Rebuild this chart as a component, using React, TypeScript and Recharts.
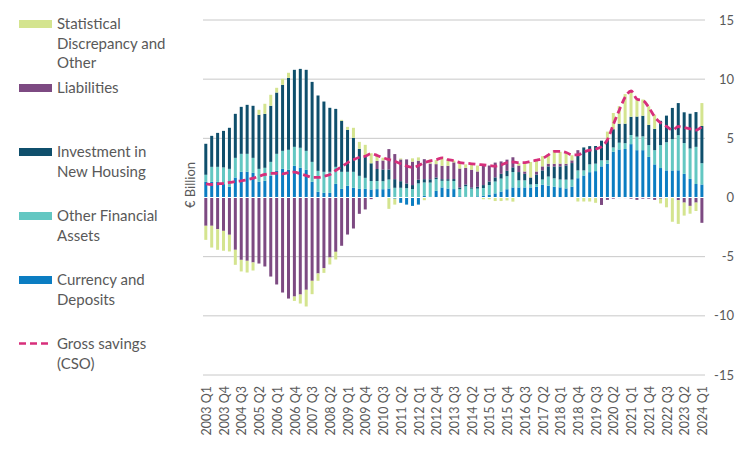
import {
  ComposedChart,
  Bar,
  Line,
  XAxis,
  YAxis,
  CartesianGrid,
  ReferenceLine,
} from 'recharts'

const years = [
  2003, 2004, 2005, 2006, 2007, 2008, 2009, 2010, 2011, 2012, 2013,
  2014, 2015, 2016, 2017, 2018, 2019, 2020, 2021, 2022, 2023, 2024,
]
const quarterNames = ['Q1', 'Q2', 'Q3', 'Q4']

// € billion, 2003 Q1 .. 2024 Q1
const currency = [
  1.32, 1.32, 1.32, 1.13, 0.9, 1.69, 2.17, 2.17, 2.08, 1.32, 1.41, 1.83,
  2.25, 2.42, 2.34, 2.68, 2.51, 2.34, 1.32, 0.48, 0.39, 0.39, 1.15, 0.73,
  0.99, 0.82, 0.73, 0.73, 0.68, 0.71, 0.7, 0.76, -0.1, -0.45, -0.6, -0.71,
  -0.6, 0.14, 0.05, 0.56, 0.85, 0.76, 0.71, 0.1, 0.05, 0.05, 0.1, 0.15,
  0.25, 0.35, 0.5, 0.7, 0.85, 0.85, 0.85, 0.85, 0.91, 1.09, 1.0, 0.91,
  0.86, 0.77, 0.91, 1.63, 1.86, 2.14, 2.23, 2.63, 2.86, 3.86, 4.06, 4.1,
  4.51, 4.0, 4.0, 3.43, 2.8, 2.49, 2.29, 2.29, 2.3, 2.0, 1.57, 1.14, 1.1,
]
const otherFinancial = [
  0.6, 1.27, 1.27, 1.41, 1.52, 1.66, 1.52, 1.52, 1.27, 1.1, 1.1, 1.18,
  1.44, 1.52, 1.69, 1.6, 1.69, 1.6, 1.69, 1.77, 1.78, 1.78, 1.44, 1.44,
  1.18, 1.35, 1.1, 0.93, 0.71, 0.68, 0.68, 0.76, 0.82, 0.82, 0.79, 0.71,
  1.19, 1.13, 1.21, 0.99, 0.56, 0.65, 0.68, 0.6, 0.9, 0.7, 0.65, 0.65,
  0.8, 1.0, 1.1, 1.1, 1.3, 0.6, 0.6, 0.25, 0.23, 0.43, 0.77, 0.71,
  0.66, 0.74, 0.6, 0.66, 0.43, 0.66, 0.63, 0.51, 0.29, 0.37, 0.57, 0.49,
  0.77, 1.14, 1.17, 1.0, 1.2, 1.94, 2.38, 2.64, 2.97, 2.6, 2.57, 3.14, 1.8,
]
const newHousing = [
  2.62, 2.62, 2.87, 3.09, 3.47, 3.72, 3.97, 4.14, 4.4, 4.57, 4.56, 4.74,
  5.18, 5.58, 6.08, 6.51, 6.67, 6.85, 6.76, 6.37, 5.94, 5.41, 4.9, 4.31,
  3.55, 2.87, 2.28, 1.86, 1.5, 1.02, 0.99, 0.85, 0.73, 0.56, 0.4, 0.34,
  0.31, 0.28, 0.28, 0.14, 0.14, 0.14, 0.17, 0.15, 0.15, 0.1, 0.15, 0.25,
  0.3, 0.35, 0.4, 0.45, 0.4, 0.7, 0.55, 0.55, 0.8, 0.77, 0.86, 1.0,
  1.11, 1.2, 1.4, 1.37, 1.94, 1.54, 1.49, 1.66, 1.71, 1.54, 1.6, 1.65,
  1.54, 1.7, 1.74, 1.71, 1.8, 2.05, 2.25, 2.64, 2.71, 2.6, 2.94, 2.94, 3.14,
]
const liabilities = [
  -2.39, -2.39, -2.68, -2.82, -3.15, -4.42, -5.27, -5.35, -5.49, -5.58, -5.83, -6.68,
  -7.35, -8.03, -8.54, -8.37, -8.2, -7.8, -7.04, -6.42, -5.97, -5.07, -4.59, -4.08,
  -3.13, -2.62, -1.38, -1.01, -0.14, 0.68, 0.76, 1.72, 2.12, 1.84, 2.03, 1.98,
  1.61, 1.69, 1.33, 1.13, 1.13, 1.13, 1.41, 1.6, 1.4, 1.5, 1.3, 1.75,
  1.35, 1.25, 1.05, 0.95, 0.85, 0.55, 0.2, 0.05, 0.26, 0.34, 0.23, 0.23,
  0.23, 0.14, 0.23, 0.34, 0, 0, -0.05, -0.63, -0.2, -0.1, -0.05, -0.05,
  -0.1, -0.2, -0.1, -0.1, -0.2, -0.1, -0.05, -0.05, -0.23, -0.43, -0.71, -0.43, -2.14,
]
const discrepancy = [
  -1.19, -1.84, -1.74, -1.68, -1.41, -1.27, -0.98, -0.99, -0.68, 0.42, 0.85, 0.93,
  0.4, 0.51, 0.43, -0.37, -0.76, -1.41, -1.13, -0.62, -0.4, -0.59, -0.65, 0.08,
  0.25, 0.85, 0.59, 0.93, 0.85, 0.45, 0.23, -0.96, -0.5, 0.08, 0, 0.28,
  0.28, -0.23, 0.34, 0.34, 0.71, 0.54, 0.15, 0.45, 0.3, 0.45, 0.5, -0.15,
  -0.15, -0.3, -0.3, -0.25, -0.35, 0.2, 0.8, 1.3, 1.03, 0.86, 0.8, 1.09,
  1.0, 0.91, 0.43, -0.34, -0.34, -0.34, -0.4, 0, 0.71, 1.37, 1.49, 2.5,
  2.17, 1.46, 1.37, 1.57, 1.2, -0.4, -0.78, -2.0, -2.0, -1.1, -0.66, -0.71, 1.94,
]
const grossSavings = [
  1.15, 1.1, 1.15, 1.2, 1.27, 1.35, 1.41, 1.5, 1.63, 1.8, 1.95, 2.03,
  2.05, 2.0, 2.1, 2.15, 2.0, 1.85, 1.7, 1.7, 1.8, 1.95, 2.3, 2.6,
  2.95, 3.2, 3.4, 3.5, 3.7, 3.55, 3.35, 3.2, 3.05, 2.85, 2.65, 2.55,
  2.7, 2.95, 3.1, 3.2, 3.35, 3.2, 3.1, 2.95, 2.9, 2.85, 2.8, 2.75,
  2.7, 2.65, 2.75, 2.95, 3.0, 2.95, 2.95, 3.05, 3.15, 3.3, 3.6, 3.9,
  3.9, 3.8, 3.6, 3.6, 3.85, 4.0, 4.1, 4.3, 4.9, 6.2, 7.4, 8.5,
  9.0, 8.3, 8.2, 7.6, 6.8, 6.3, 6.0, 5.7, 6.0, 5.9, 5.8, 5.7, 6.0,
]
const yTicks = [-15, -10, -5, 0, 5, 10, 15]

const COLORS = {
  currency: '#0b7dc2',
  other: '#63c7c2',
  housing: '#0f4f6c',
  liabilities: '#7d4a82',
  discrepancy: '#d4e48f',
  savings: '#d72f7b',
}

const quarters: string[] = []
years.forEach((y) =>
  quarterNames.forEach((q) => {
    if (quarters.length < currency.length) quarters.push(`${y} ${q}`)
  })
)

const data = quarters.map((q, i) => ({
  quarter: q,
  currency: currency[i],
  other: otherFinancial[i],
  housing: newHousing[i],
  liabilities: liabilities[i],
  discrepancy: discrepancy[i],
  savings: grossSavings[i],
}))

const FONT = 'Lato, "Open Sans", sans-serif'
const TEXT = '#595959'

const XTick = ({ x, y, payload }: any) => (
  <text
    transform={`translate(${x + 5},${y + 3}) rotate(-90)`}
    textAnchor="end"
    fill={TEXT}
    fontSize={12.5}
    fontFamily={FONT}
  >
    {payload.value}
  </text>
)

const YTick = ({ x, y, payload }: any) => (
  <text x={x + 21} y={y + 4.5} textAnchor="end" fill={TEXT} fontSize={13} fontFamily={FONT}>
    {payload.value}
  </text>
)

const legendItems = [
  { label: ['Statistical', 'Discrepancy and', 'Other'], color: COLORS.discrepancy, top: 14 },
  { label: ['Liabilities'], color: COLORS.liabilities, top: 78 },
  { label: ['Investment in', 'New Housing'], color: COLORS.housing, top: 142 },
  { label: ['Other Financial', 'Assets'], color: COLORS.other, top: 206 },
  { label: ['Currency and', 'Deposits'], color: COLORS.currency, top: 270 },
]

export default function App() {
  return (
    <div style={{ position: 'absolute', left: 0, top: 0, width: 756, height: 450, background: '#fff' }}>
      <ComposedChart
        width={756}
        height={450}
        data={data}
        stackOffset="sign"
        barCategoryGap="22%"
        margin={{ top: 20, right: 11, left: 203, bottom: 5 }}
      >
        <CartesianGrid vertical={false} stroke="#c8c8c8" />
        <XAxis
          dataKey="quarter"
          interval={2}
          tick={<XTick />}
          axisLine={false}
          tickLine={false}
          height={70}
        />
        <YAxis
          orientation="right"
          domain={[-15, 15]}
          ticks={yTicks}
          tick={<YTick />}
          axisLine={false}
          tickLine={false}
          width={40}
        />
        <Bar dataKey="currency" stackId="a" fill={COLORS.currency} isAnimationActive={false} />
        <Bar dataKey="other" stackId="a" fill={COLORS.other} isAnimationActive={false} />
        <Bar dataKey="housing" stackId="a" fill={COLORS.housing} isAnimationActive={false} />
        <Bar dataKey="liabilities" stackId="a" fill={COLORS.liabilities} isAnimationActive={false} />
        <Bar dataKey="discrepancy" stackId="a" fill={COLORS.discrepancy} isAnimationActive={false} />
        <ReferenceLine y={0} stroke="#ffffff" strokeWidth={1} />
        <Line
          type="monotone"
          dataKey="savings"
          stroke={COLORS.savings}
          strokeWidth={2.8}
          strokeDasharray="7 4"
          dot={false}
          isAnimationActive={false}
        />
      </ComposedChart>

      {/* left legend */}
      {legendItems.map((item) => (
        <div key={item.label[0]} style={{ position: 'absolute', left: 19, top: item.top }}>
          <div style={{ position: 'absolute', left: 0, top: 6, width: 33, height: 8, background: item.color }} />
          <div
            style={{
              position: 'absolute',
              left: 38,
              top: 0,
              width: 140,
              fontFamily: FONT,
              fontSize: 15,
              lineHeight: '19.5px',
              color: TEXT,
            }}
          >
            {item.label.map((l) => (
              <div key={l}>{l}</div>
            ))}
          </div>
        </div>
      ))}
      <div style={{ position: 'absolute', left: 19, top: 334 }}>
        <svg width={34} height={20} style={{ position: 'absolute', left: 0, top: 0 }}>
          <line x1={0} y1={9.5} x2={33} y2={9.5} stroke={COLORS.savings} strokeWidth={2.5} strokeDasharray="7 4" />
        </svg>
        <div
          style={{
            position: 'absolute',
            left: 38,
            top: 0,
            width: 140,
            fontFamily: FONT,
            fontSize: 15,
            lineHeight: '19.5px',
            color: TEXT,
          }}
        >
          <div>Gross savings</div>
          <div>(CSO)</div>
        </div>
      </div>

      {/* axis title */}
      <div
        style={{
          position: 'absolute',
          left: 190,
          top: 185,
          transform: 'translate(-50%, -50%) rotate(-90deg)',
          fontFamily: FONT,
          fontSize: 13,
          color: TEXT,
          whiteSpace: 'nowrap',
        }}
      >
        € Billion
      </div>
    </div>
  )
}
